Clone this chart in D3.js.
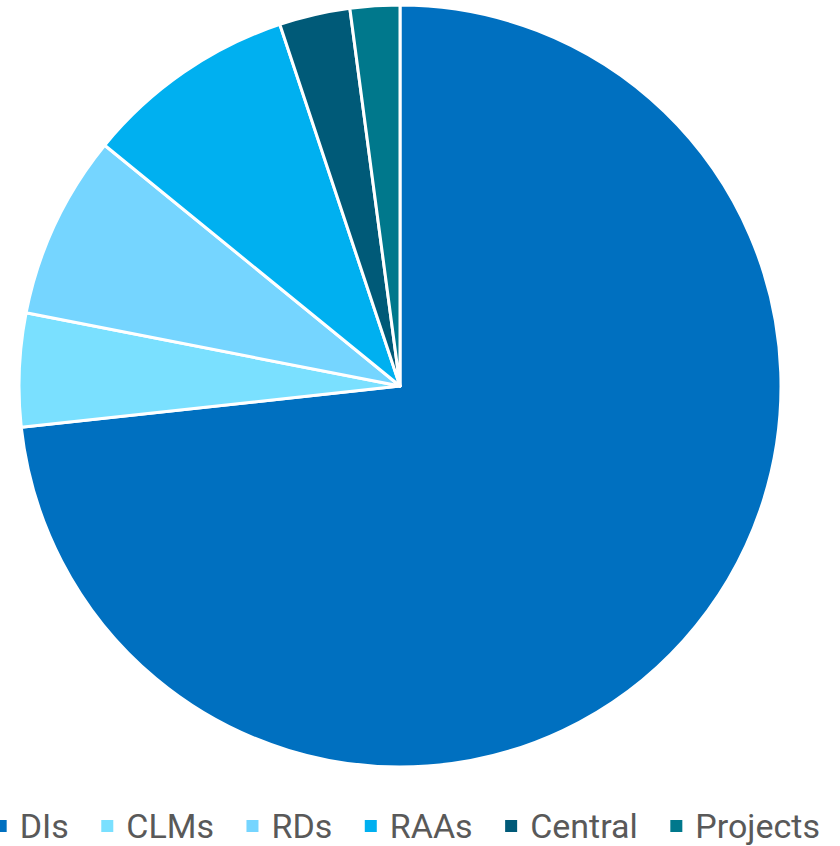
<!DOCTYPE html>
<html>
<head>
<meta charset="utf-8">
<script src="https://cdn.jsdelivr.net/npm/d3@7"></script>
<style>
  body { margin: 0; background: #fff; }
  svg { display: block; }
</style>
</head>
<body>
<svg id="chart" width="840" height="846"></svg>
<script>
// slice categories and shares (%)
const categories = ["DIs", "CLMs", "RDs", "RAAs", "Central", "Projects"]
const shares = [73.2, 4.8, 7.8, 9.0, 3.0, 2.1]
const colors = ["#0070C0", "#7AE0FF", "#75D5FF", "#00B0F0", "#005A78", "#00788C"]

let svg = d3.select("#chart")
let cx = 400, cy = 386, radius = 381

let data = categories.map((c, i) => ({ name: c, value: shares[i] }))

let pie = d3.pie()
    .sort(null)
    .value(d => d.value)

let arc = d3.arc()
    .innerRadius(0)
    .outerRadius(radius)

let color = d3.scaleOrdinal()
    .domain(categories)
    .range(colors)

let g = svg.append("g")
    .attr("transform", "translate(" + cx + "," + cy + ")")

g.selectAll("path")
    .data(pie(data))
    .enter().append("path")
        .attr("d", arc)
        .attr("fill", d => color(d.data.name))
        .attr("stroke", "#fff")
        .attr("stroke-width", 3)
        .attr("stroke-linejoin", "round")

// legend, right end lined up with the reference
let legend = svg.append("g")
let boxSize = 12, boxGap = 13, itemGap = 32.5
let x = 0
let items = legend.selectAll("g.item")
    .data(categories)
    .enter().append("g")
        .attr("class", "item")

items.append("rect")
    .attr("width", boxSize)
    .attr("height", boxSize)
    .attr("y", -boxSize / 2 - 12)
    .attr("fill", d => color(d))

items.append("text")
    .attr("x", boxSize + boxGap)
    .attr("y", 0)
    .style("font-family", "Roboto, sans-serif")
    .style("font-size", "34px")
    .style("fill", "#595959")
    .text(d => d)

items.each(function() {
    let w = d3.select(this).select("text").node().getComputedTextLength()
    d3.select(this).attr("transform", "translate(" + x + ",0)")
    x += boxSize + boxGap + w + itemGap
})
let total = x - itemGap
legend.attr("transform", "translate(" + (820 - total) + ",838)")
</script>
</body>
</html>
